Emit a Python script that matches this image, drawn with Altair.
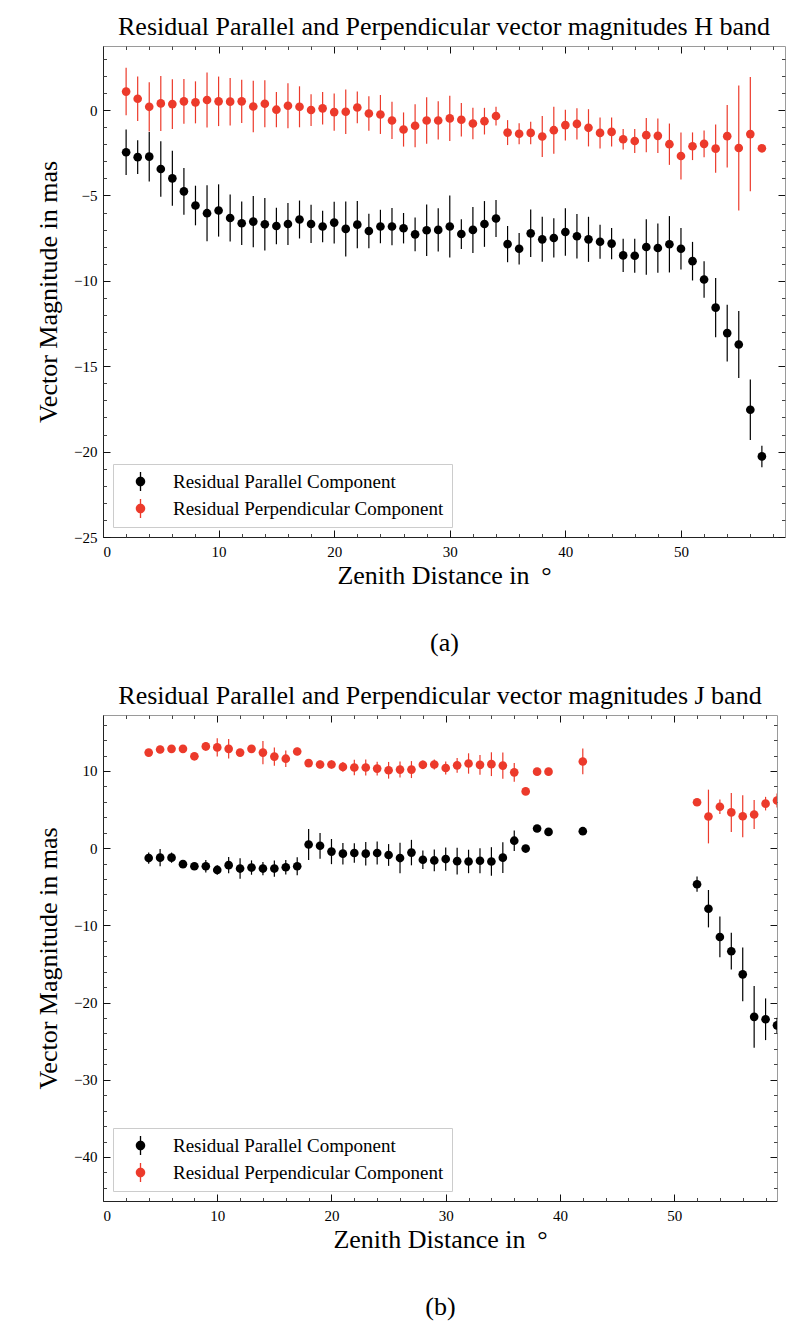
import altair as alt
import pandas as pd

# ---------------- H band (panel a) ----------------
zd_h = [2, 3, 4, 5, 6, 7, 8, 9, 10, 11, 12, 13, 14, 15, 16, 17, 18, 19, 20, 21,
        22, 23, 24, 25, 26, 27, 28, 29, 30, 31, 32, 33, 34, 35, 36, 37, 38, 39, 40, 41,
        42, 43, 44, 45, 46, 47, 48, 49, 50, 51, 52, 53, 54, 55, 56, 57]
par_h = [-2.47, -2.76, -2.73, -3.45, -4.0, -4.76, -5.59, -6.04, -5.88, -6.32,
         -6.63, -6.53, -6.69, -6.79, -6.67, -6.41, -6.67, -6.82, -6.59, -6.96,
         -6.71, -7.08, -6.82, -6.82, -6.92, -7.28, -7.04, -7.02, -6.82, -7.26,
         -7.02, -6.67, -6.35, -7.85, -8.12, -7.22, -7.57, -7.49, -7.14, -7.39,
         -7.57, -7.71, -7.82, -8.51, -8.53, -8.02, -8.08, -7.86, -8.12, -8.85,
         -9.92, -11.57, -13.06, -13.73, -17.55, -20.28]
par_h_err = [1.33, 0.99, 1.45, 1.63, 1.61, 1.37, 1.16, 1.64, 1.53, 1.37,
             1.27, 1.5, 1.54, 1.07, 1.23, 1.11, 1.12, 0.92, 1.22, 1.61,
             1.38, 1.01, 0.98, 1.09, 0.89, 0.99, 1.51, 1.27, 1.82, 0.87,
             1.35, 1.34, 1.08, 1.06, 0.92, 1.39, 1.32, 1.15, 1.39, 1.31,
             1.32, 1.0, 0.91, 0.98, 1.0, 1.63, 1.44, 1.65, 1.21, 1.13,
             1.07, 1.73, 1.66, 1.96, 1.77, 0.63]
perp_h = [1.08, 0.66, 0.19, 0.39, 0.35, 0.51, 0.45, 0.59, 0.51, 0.49,
          0.51, 0.21, 0.37, 0.02, 0.25, 0.19, 0.0, 0.10, -0.12, -0.10,
          0.15, -0.2, -0.26, -0.61, -1.14, -0.92, -0.61, -0.61, -0.49, -0.57,
          -0.79, -0.65, -0.35, -1.32, -1.39, -1.34, -1.55, -1.18, -0.88, -0.81,
          -1.04, -1.34, -1.28, -1.71, -1.81, -1.47, -1.51, -2.0, -2.69, -2.12,
          -1.98, -2.26, -1.53, -2.22, -1.41, -2.24]
perp_h_err = [1.39, 1.30, 1.44, 1.61, 1.46, 1.31, 1.23, 1.61, 1.45, 1.39,
              1.27, 1.51, 1.38, 1.03, 1.32, 1.2, 0.93, 0.95, 1.09, 1.31,
              0.93, 1.01, 1.14, 1.09, 1.0, 1.26, 1.36, 1.12, 1.32, 0.98,
              0.92, 0.78, 0.55, 0.73, 0.62, 0.66, 1.2, 1.38, 0.9, 0.92,
              1.09, 0.91, 0.85, 0.6, 0.7, 1.0, 1.01, 1.21, 1.38, 0.81,
              0.78, 1.41, 1.83, 3.66, 3.34, 0.0]

# ---------------- J band (panel b) ----------------
zd_j = [4, 5, 6, 7, 8, 9, 10, 11, 12, 13, 14, 15, 16, 17, 18, 19, 20, 21, 22, 23,
        24, 25, 26, 27, 28, 29, 30, 31, 32, 33, 34, 35, 36, 37, 38, 39, 42,
        52, 53, 54, 55, 56, 57, 58, 59]
par_j = [-1.28, -1.23, -1.23, -2.07, -2.34, -2.34, -2.82, -2.2, -2.64, -2.51,
         -2.64, -2.64, -2.47, -2.34, 0.48, 0.31, -0.44, -0.71, -0.62, -0.71,
         -0.62, -0.88, -1.28, -0.57, -1.5, -1.59, -1.41, -1.68, -1.72, -1.63,
         -1.72, -1.23, 0.97, -0.05, 2.55, 2.11, 2.2,
         -4.67, -7.84, -11.5, -13.35, -16.34, -21.85, -22.16, -22.95]
par_j_err = [0.73, 1.12, 0.66, 0.44, 0.44, 0.82, 0.62, 1.06, 1.32, 0.93,
             0.86, 1.06, 0.95, 1.17, 2.0, 1.67, 1.63, 1.39, 1.26, 1.52,
             1.5, 1.41, 1.98, 1.65, 1.21, 1.41, 1.5, 1.74, 1.52, 1.61,
             1.85, 2.0, 1.32, 0.0, 0.0, 0.0, 0.0,
             0.99, 2.42, 2.64, 2.38, 3.48, 4.0, 2.7, 1.0]
perp_j = [12.38, 12.78, 12.87, 12.87, 11.9, 13.18, 13.05, 12.87, 12.38, 12.87,
          12.38, 11.86, 11.59, 12.52, 11.02, 10.84, 10.84, 10.53, 10.45, 10.45,
          10.31, 10.09, 10.18, 10.18, 10.8, 10.84, 10.39, 10.73, 10.97, 10.79,
          10.88, 10.7, 9.82, 7.35, 9.91, 9.91, 11.23,
          5.95, 4.1, 5.37, 4.63, 4.14, 4.36, 5.77, 6.17]
perp_j_err = [0.44, 0.48, 0.48, 0.48, 0.44, 0.55, 1.19, 1.26, 0.44, 0.48,
              1.5, 1.17, 1.06, 0.48, 0.5, 0.53, 0.53, 0.64, 0.99, 1.04,
              0.9, 1.08, 1.04, 1.1, 0.55, 0.66, 0.84, 0.95, 1.32, 1.28,
              1.54, 1.7, 1.21, 0.0, 0.0, 0.0, 1.67,
              0.4, 3.48, 0.93, 2.53, 2.73, 1.87, 0.88, 0.9]

# ---------------- tick values ----------------
x_major = [0, 10, 20, 30, 40, 50]
x_minor = [2, 4, 6, 8, 12, 14, 16, 18, 22, 24, 26, 28, 32, 34, 36, 38, 42, 44, 46, 48, 52, 54, 56, 58]
yh_major = [-25, -20, -15, -10, -5, 0]
yh_minor = [-24, -23, -22, -21, -19, -18, -17, -16, -14, -13, -12, -11, -9, -8, -7, -6,
            -4, -3, -2, -1, 1, 2, 3]
yj_major = [-40, -30, -20, -10, 0, 10]
yj_minor = [-44, -42, -38, -36, -34, -32, -28, -26, -24, -22, -18, -16, -14, -12,
            -8, -6, -4, -2, 2, 4, 6, 8, 12, 14, 16]

SERIES = ["Residual Parallel Component", "Residual Perpendicular Component"]
KEYS = ["par", "perp"]
COLORS = ["#000000", "#ec3a2b"]
FONT = "Liberation Serif"
XTITLE = "Zenith Distance in \u2009°"
# legend glyph: filled dot with a thin vertical error bar (both clockwise, filled)
LEG_PATH = ("M-0.07,-1H0.07V1H-0.07Z"
            "M-0.5,0A0.5,0.5,0,1,1,0.5,0A0.5,0.5,0,1,1,-0.5,0Z")


def tick_axis(orient, values, size, color, domain=False):
    kw = dict(orient=orient, values=values, labels=False, ticks=True,
              tickSize=alt.ExprRef(expr=str(-size)), tickColor=color, tickWidth=1,
              grid=False, title=None, domain=domain)
    if domain:
        kw.update(domainColor="#9a9a9a", domainWidth=1)
    return alt.Axis(**kw)


def panel(zd, par, par_err, perp, perp_err, title, sub, ydom, ymaj, ymin, w, h):
    rows = []
    for xi, v, e in zip(zd, par, par_err):
        rows.append({"x": xi, "y": v, "lo": v - e, "hi": v + e, "s": SERIES[0], "k": KEYS[0]})
    for xi, v, e in zip(zd, perp, perp_err):
        rows.append({"x": xi, "y": v, "lo": v - e, "hi": v + e, "s": SERIES[1], "k": KEYS[1]})
    df = pd.DataFrame(rows)
    base = alt.Chart(df)
    xs = alt.Scale(domain=[0, 59], nice=False, zero=False)
    ys = alt.Scale(domain=ydom, nice=False, zero=False)

    x_lab = alt.Axis(orient="bottom", values=x_major, format="d", ticks=False,
                     domain=True, domainColor="#222222", domainWidth=1,
                     labelFont=FONT, labelFontSize=15, labelColor="black", labelPadding=7,
                     title=[XTITLE, sub], titleFont=FONT, titleFontSize=26,
                     titleFontWeight="normal", titleColor="black", titlePadding=3,
                     titleLineHeight=67, grid=False)
    y_lab = alt.Axis(orient="left", values=ymaj, format="d", ticks=False,
                     domain=True, domainColor="#222222", domainWidth=1,
                     labelFont=FONT, labelFontSize=15, labelColor="black", labelPadding=6,
                     title="Vector Magnitude in mas", titleFont=FONT, titleFontSize=26,
                     titleFontWeight="normal", titleColor="black", titlePadding=12,
                     grid=False)

    leg = alt.Legend(title=None, orient="bottom-left", offset=10, padding=8,
                     symbolOffset=10, labelOffset=23, rowPadding=7,
                     labelFont=FONT, labelFontSize=19, labelColor="black", labelLimit=600,
                     strokeColor="#cccccc", fillColor="white", cornerRadius=0,
                     symbolType=LEG_PATH, symbolSize=361, symbolStrokeWidth=0,
                     symbolOpacity=1)

    rules = base.mark_rule(strokeWidth=1.2, clip=True).encode(
        x=alt.X("x:Q", scale=xs, axis=x_lab),
        y=alt.Y("lo:Q", scale=ys, axis=y_lab),
        y2="hi:Q",
        stroke=alt.Stroke("k:N", scale=alt.Scale(domain=KEYS, range=COLORS), legend=None),
    )
    pts = base.mark_circle(size=75, opacity=1, clip=True).encode(
        x=alt.X("x:Q", scale=xs, axis=tick_axis("bottom", x_major, 7, "#111111")),
        y=alt.Y("y:Q", scale=ys, axis=tick_axis("left", ymaj, 7, "#111111")),
        color=alt.Color("s:N", scale=alt.Scale(domain=SERIES, range=COLORS), legend=leg),
    )
    d1 = base.mark_point(opacity=0).encode(
        x=alt.X("x:Q", scale=xs, axis=tick_axis("bottom", x_minor, 3.5, "#444444")),
        y=alt.Y("y:Q", scale=ys, axis=tick_axis("left", ymin, 3.5, "#444444")),
    )
    d2 = base.mark_point(opacity=0).encode(
        x=alt.X("x:Q", scale=xs, axis=tick_axis("top", x_major, 7, "#111111", True)),
        y=alt.Y("y:Q", scale=ys, axis=tick_axis("right", ymaj, 7, "#111111", True)),
    )
    d3 = base.mark_point(opacity=0).encode(
        x=alt.X("x:Q", scale=xs, axis=tick_axis("top", x_minor, 3.5, "#444444")),
        y=alt.Y("y:Q", scale=ys, axis=tick_axis("right", ymin, 3.5, "#444444")),
    )
    return alt.layer(rules, pts, d1, d2, d3).resolve_axis(
        x="independent", y="independent"
    ).properties(
        width=w, height=h,
        title=alt.TitleParams(title, font=FONT, fontSize=26, fontWeight="normal",
                              color="black", anchor="middle", frame="group", offset=6),
    )


top = panel(zd_h, par_h, par_h_err, perp_h, perp_h_err,
            "Residual Parallel and Perpendicular vector magnitudes H band", "(a)",
            [-25, 3.75], yh_major, yh_minor, 682, 491)
bottom = panel(zd_j, par_j, par_j_err, perp_j, perp_j_err,
               "Residual Parallel and Perpendicular vector magnitudes J band", "(b)",
               [-45.7, 17.25], yj_major, yj_minor, 674, 486)

chart = alt.vconcat(top, bottom, spacing=27).resolve_scale(
    color="independent", stroke="independent"
).resolve_legend(
    color="independent"
).configure_view(stroke=None).properties(
    background="white",
    padding={"left": 27, "top": 5, "right": 5, "bottom": 5},
)

chart.save("out.html", embed_options={"renderer": "svg", "actions": False})
